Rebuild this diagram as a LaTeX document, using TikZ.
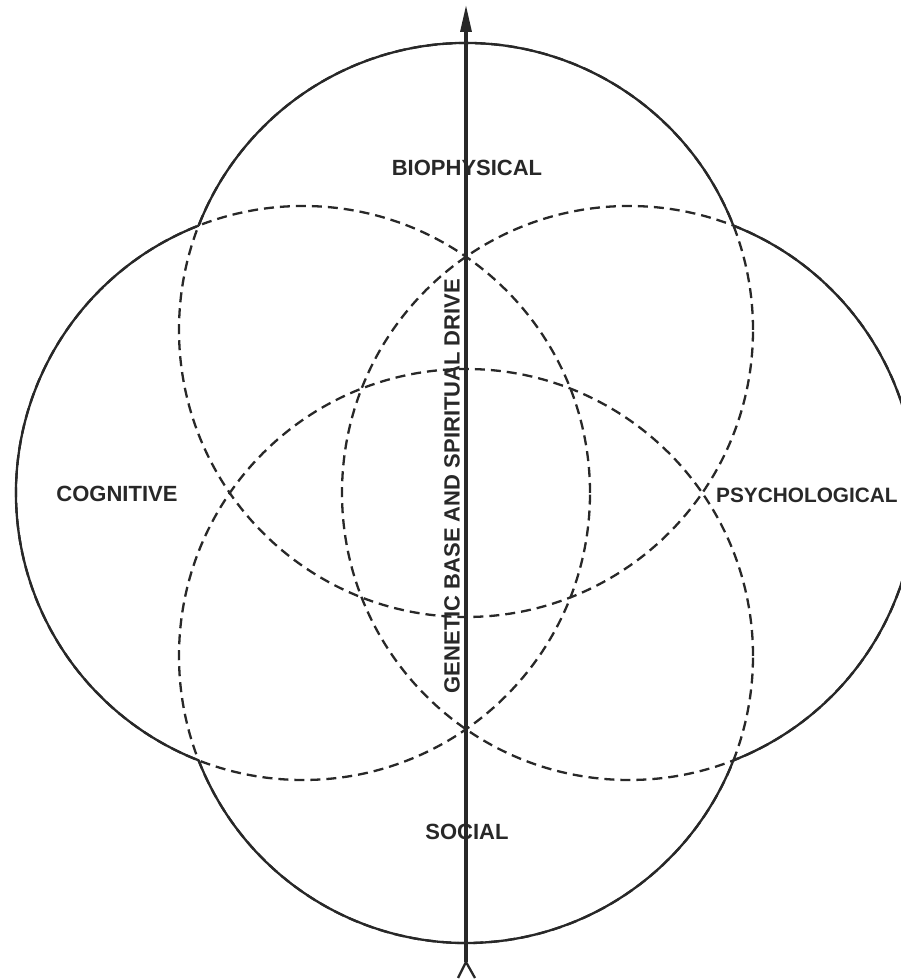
\documentclass[tikz,border=0pt]{standalone}
\usepackage{fontspec}
\setmainfont{Liberation Sans}
\usetikzlibrary{arrows.meta}
\definecolor{ink}{RGB}{40,40,40}
\begin{document}
\begin{tikzpicture}[x=1pt,y=1pt,
  ring/.style={draw=ink,line width=2.3pt,dash pattern=on 10pt off 6pt},
  rim/.style={draw=ink,line width=2.3pt,solid},
  lbl/.style={text=ink,inner sep=0pt,font=\fontsize{22}{26}\selectfont\bfseries},
  axis/.style={draw=ink,line width=3.2pt},
]
\fill[white] (0,0) rectangle (901,980);
\useasboundingbox (0,0) rectangle (901,980);
\def\R{287pt}
\def\a{21.32}
% circle centres
\coordinate (ctop) at (466,650);
\coordinate (cbot) at (466,324);
\coordinate (cleft) at (303,487);
\coordinate (cright) at (629,487);
% circles (dashed inside)
\draw[ring] (ctop) circle[radius=\R];
\draw[ring] (cbot) circle[radius=\R];
\draw[ring] (cleft) circle[radius=\R];
\draw[ring] (cright) circle[radius=\R];
% solid outer arcs
\draw[rim] (ctop) ++(\a:\R) arc[start angle=\a, end angle={180-\a}, radius=\R];
\draw[rim] (cleft) ++({90+\a}:\R) arc[start angle={90+\a}, end angle={270-\a}, radius=\R];
\draw[rim] (cbot) ++({180+\a}:\R) arc[start angle={180+\a}, end angle={360-\a}, radius=\R];
\draw[rim] (cright) ++({-90+\a}:\R) arc[start angle={-90+\a}, end angle={90-\a}, radius=\R];
% axis arrow
\coordinate (tail) at (466,18);
\coordinate (tip) at (466,975);
\coordinate (forkL) at (458,2);
\coordinate (forkR) at (475,2);
\draw[axis,-{Triangle[length=27pt,width=11pt]}] (tail) -- (tip);
\draw[ink,line width=2.3pt] (forkL) -- (tail) -- (forkR);
% labels
\node[lbl] (bio) at (467,812) {BIOPHYSICAL};
\node[lbl] (soc) at (467,148) {SOCIAL};
\node[lbl] (cog) at (117,486) {COGNITIVE};
\node[lbl,anchor=west,font=\fontsize{20.8}{26}\selectfont\bfseries] (psy) at (716,485) {PSYCHOLOGICAL};
\node[lbl,rotate=90] (gen) at (452,494) {GENETIC BASE AND SPIRITUAL DRIVE};
\end{tikzpicture}
\end{document}
